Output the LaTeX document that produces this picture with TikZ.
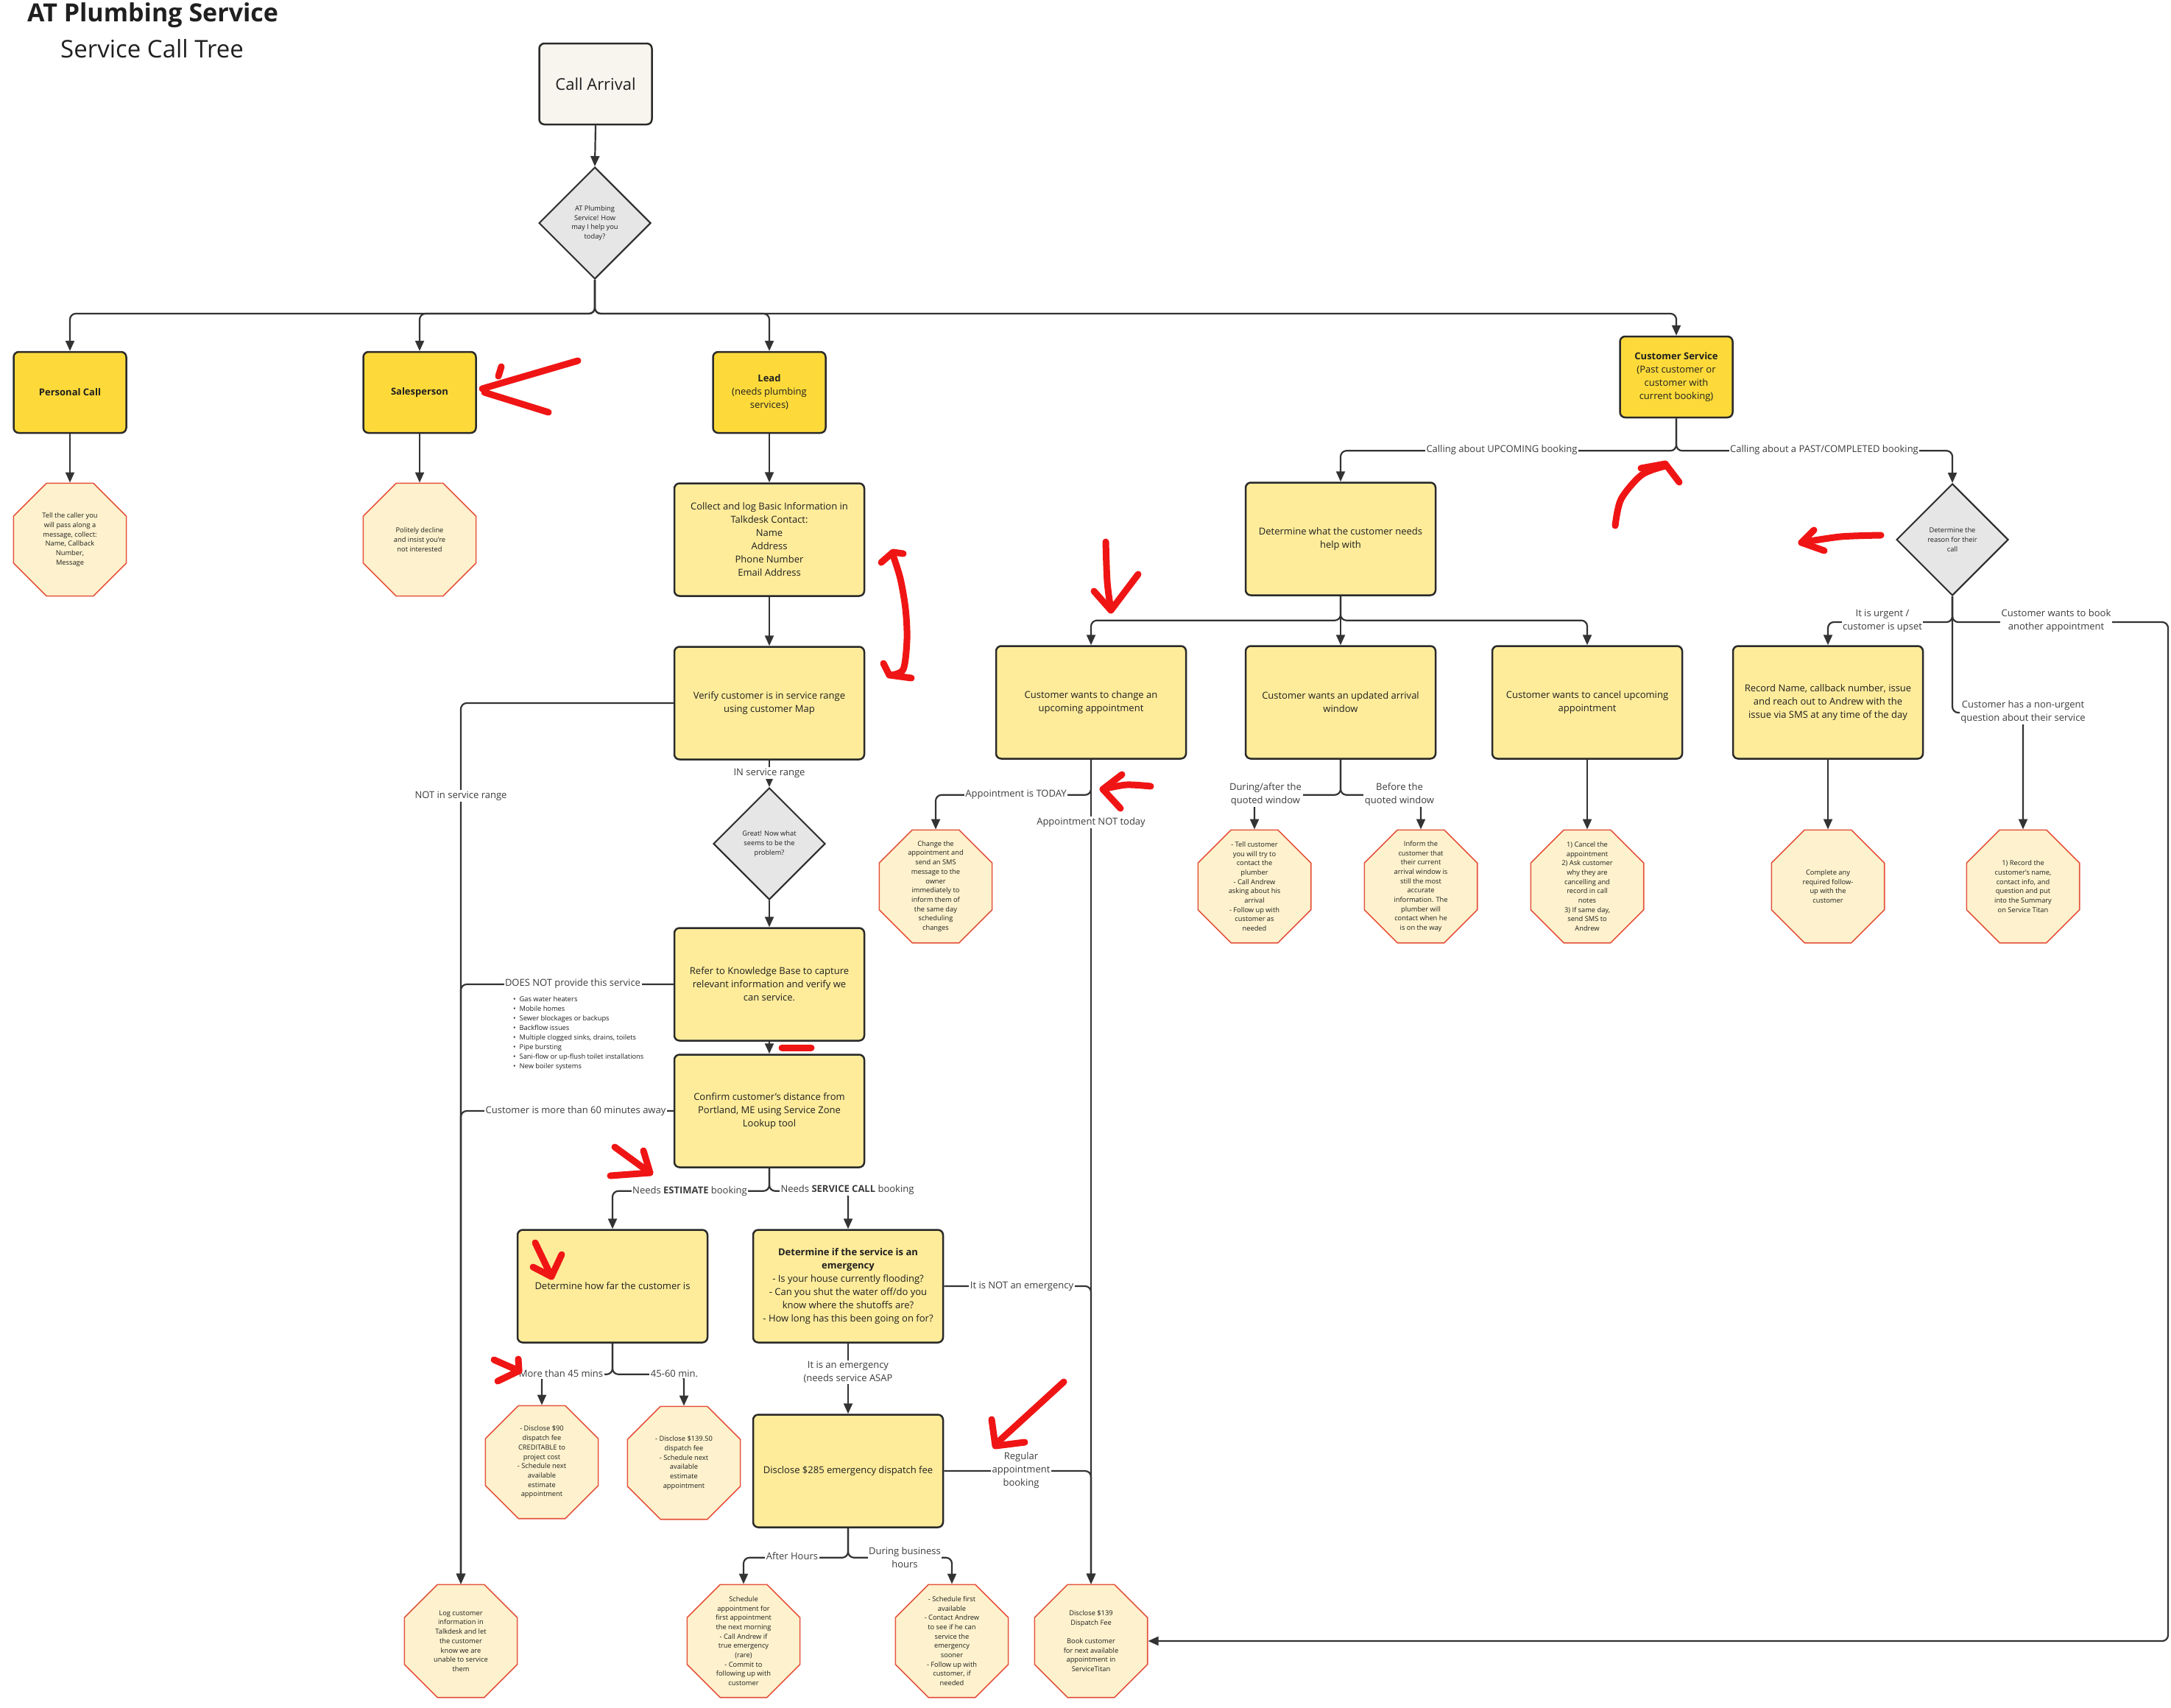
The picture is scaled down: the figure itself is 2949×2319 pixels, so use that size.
\documentclass[tikz,border=0pt]{standalone}
\usepackage{fontspec}
\setmainfont{Open Sans}
\usetikzlibrary{shapes.geometric,arrows.meta,calc}
\definecolor{linec}{HTML}{333333}
\definecolor{boxline}{HTML}{2A2A2A}
\definecolor{topyellow}{HTML}{FDDA3A}
\definecolor{lightyellow}{HTML}{FEEC9B}
\definecolor{decgray}{HTML}{E6E6E6}
\definecolor{octred}{HTML}{E5533D}
\definecolor{octfill}{HTML}{FDF2CD}
\definecolor{callfill}{HTML}{F8F5EE}
\definecolor{textc}{HTML}{1F1F1F}
\definecolor{labc}{HTML}{3C3C3C}
\definecolor{annred}{HTML}{F01515}
\tikzset{
 conn/.style={draw=linec, line width=2.2pt, rounded corners=8pt, -{Triangle[length=14pt,width=12pt]}},
 topbox/.style={draw=boxline, fill=topyellow, line width=2.5pt, rounded corners=7pt, minimum width=153pt, minimum height=110pt, align=center, font=\fontsize{13}{18}\selectfont, text=textc, inner sep=2pt},
 lbox/.style={draw=boxline, fill=lightyellow, line width=2.5pt, rounded corners=7pt, minimum width=258pt, minimum height=153pt, align=center, font=\fontsize{13}{18}\selectfont, text=textc, inner sep=2pt},
 dec/.style={diamond, aspect=1, draw=boxline, fill=decgray, line width=2pt, minimum width=152pt, minimum height=152pt, inner sep=0pt, align=center, font=\fontsize{9.3}{12.7}\selectfont, text=textc},
 oct/.style={regular polygon, regular polygon sides=8, minimum size=166pt, inner sep=0pt, draw=octred, fill=octfill, line width=1.6pt},
 octtext/.style={align=center, font=\fontsize{9.3}{12.7}\selectfont, text=textc, inner sep=0pt},
 lab/.style={fill=white, inner sep=1.5pt, align=center, font=\fontsize{13}{18}\selectfont, text=labc},
 ann/.style={draw=annred, line width=9pt, line cap=round, line join=round},
}
\begin{document}
\begin{tikzpicture}[x=1pt,y=-1pt]
\fill[white] (0,0) rectangle (2949,2319);
\useasboundingbox (0,0) rectangle (2949,2319);

% titles
\node[anchor=base west, inner sep=0pt, font=\fontsize{34}{40}\selectfont\bfseries, text=textc] (title) at (37,29) {AT Plumbing Service};
\node[anchor=base west, inner sep=0pt, font=\fontsize{33}{40}\selectfont, text=textc] (subtitle) at (82,78) {Service Call Tree};

% nodes
\node[topbox, fill=callfill, font=\fontsize{22}{26}\selectfont] (callarr) at (809,114) {Call Arrival};
\node[dec] (d1) at (808,303) {AT Plumbing\\Service! How\\may I help you\\today?};

\node[topbox] (personal) at (95,533) {\textbf{Personal Call}};
\node[topbox] (salesp) at (570,533) {\textbf{Salesperson}};
\node[topbox] (lead) at (1045,533) {\textbf{Lead}\\(needs plumbing\\services)};
\node[topbox] (cs) at (2277,512) {\textbf{Customer Service}\\(Past customer or\\customer with\\current booking)};

\node[lbox] (collect) at (1045,733) {Collect and log Basic Information in\\Talkdesk Contact:\\Name\\Address\\Phone Number\\Email Address};
\node[lbox] (verify) at (1045,955) {Verify customer is in service range\\using customer Map};
\node[dec] (d3) at (1045,1146) {Great! Now what\\seems to be the\\problem?};
\node[lbox] (kb) at (1045,1337) {Refer to Knowledge Base to capture\\relevant information and verify we\\can service.};
\node[lbox] (confirm) at (1045,1509) {Confirm customer's distance from\\Portland, ME using Service Zone\\Lookup tool};
\node[lbox] (howfar) at (832,1747) {Determine how far the customer is};
\node[lbox] (emerg) at (1152,1747) {\textbf{Determine if the service is an}\\\textbf{emergency}\\- Is your house currently flooding?\\- Can you shut the water off/do you\\know where the shutoffs are?\\- How long has this been going on for?};
\node[lbox] (disc285) at (1152,1998) {Disclose \$285 emergency dispatch fee};

\node[lbox] (determine) at (1821,732) {Determine what the customer needs\\help with};
\node[lbox] (boxA) at (1482,954) {Customer wants to change an\\upcoming appointment};
\node[lbox] (boxB) at (1821,954) {Customer wants an updated arrival\\window};
\node[lbox] (boxC) at (2156,954) {Customer wants to cancel upcoming\\appointment};
\node[dec] (d2) at (2652,733) {Determine the\\reason for their\\call};
\node[lbox] (record) at (2483,954) {Record Name, callback number, issue\\and reach out to Andrew with the\\issue via SMS at any time of the day};

% octagons
\node[oct] (opersonal) at (95,733) {};
\node[octtext] (t-opersonal) at (opersonal) {Tell the caller you\\will pass along a\\message, collect:\\Name, Callback\\Number,\\Message};
\node[oct] (osales) at (570,733) {};
\node[octtext] (t-osales) at (osales) {Politely decline\\and insist you're\\not interested};
\node[oct] (ochange) at (1271,1204) {};
\node[octtext] (t-ochange) at (ochange) {Change the\\appointment and\\send an SMS\\message to the\\owner\\immediately to\\inform them of\\the same day\\scheduling\\changes};
\node[oct] (otell) at (1704,1204) {};
\node[octtext] (t-otell) at (otell) {- Tell customer\\you will try to\\contact the\\plumber\\- Call Andrew\\asking about his\\arrival\\- Follow up with\\customer as\\needed};
\node[oct] (oinform) at (1930,1204) {};
\node[octtext] (t-oinform) at (oinform) {Inform the\\customer that\\their current\\arrival window is\\still the most\\accurate\\information. The\\plumber will\\contact when he\\is on the way};
\node[oct] (ocancel) at (2156,1204) {};
\node[octtext] (t-ocancel) at (ocancel) {1) Cancel the\\appointment\\2) Ask customer\\why they are\\cancelling and\\record in call\\notes\\3) If same day,\\send SMS to\\Andrew};
\node[oct] (ocomplete) at (2483,1204) {};
\node[octtext] (t-ocomplete) at (ocomplete) {Complete any\\required follow-\\up with the\\customer};
\node[oct] (orecord) at (2748,1204) {};
\node[octtext] (t-orecord) at (orecord) {1) Record the\\customer's name,\\contact info, and\\question and put\\into the Summary\\on Service Titan};
\node[oct] (o90) at (736,1986) {};
\node[octtext] (t-o90) at (o90) {- Disclose \$90\\dispatch fee\\CREDITABLE to\\project cost\\- Schedule next\\available\\estimate\\appointment};
\node[oct] (o13950) at (929,1987) {};
\node[octtext] (t-o13950) at (o13950) {- Disclose \$139.50\\dispatch fee\\- Schedule next\\available\\estimate\\appointment};
\node[oct] (olog) at (626,2229) {};
\node[octtext] (t-olog) at (olog) {Log customer\\information in\\Talkdesk and let\\the customer\\know we are\\unable to service\\them};
\node[oct] (osched) at (1010,2229) {};
\node[octtext] (t-osched) at (osched) {Schedule\\appointment for\\first appointment\\the next morning\\- Call Andrew if\\true emergency\\(rare)\\- Commit to\\following up with\\customer};
\node[oct] (ofirst) at (1293,2229) {};
\node[octtext] (t-ofirst) at (ofirst) {- Schedule first\\available\\- Contact Andrew\\to see if he can\\service the\\emergency\\sooner\\- Follow up with\\customer, if\\needed};
\node[oct] (o139) at (1482,2229) {};
\node[octtext] (t-o139) at (o139) {Disclose \$139\\Dispatch Fee\\[12.7pt]Book customer\\for next available\\appointment in\\ServiceTitan};

% bullet list
\node[anchor=north west, align=left, inner sep=0pt, font=\fontsize{9.3}{13}\selectfont, text=textc] (blist) at (697,1353) {%
\textbullet\hspace{5pt}Gas water heaters\\
\textbullet\hspace{5pt}Mobile homes\\
\textbullet\hspace{5pt}Sewer blockages or backups\\
\textbullet\hspace{5pt}Backflow issues\\
\textbullet\hspace{5pt}Multiple clogged sinks, drains, toilets\\
\textbullet\hspace{5pt}Pipe bursting\\
\textbullet\hspace{5pt}Sani-flow or up-flush toilet installations\\
\textbullet\hspace{5pt}New boiler systems};

\coordinate (rightrail) at (2945,2229);
\coordinate (nubend) at (2748,968);

% connectors
\draw[conn] (callarr.south) -- (d1.north);
\draw[conn] (d1.south) -- ++(0,46) -| (personal.north);
\draw[conn] (d1.south) -- ++(0,46) -| (salesp.north);
\draw[conn] (d1.south) -- ++(0,46) -| (lead.north);
\draw[conn] (d1.south) -- ++(0,46) -| (cs.north);
\draw[conn] (personal.south) -- (opersonal.north);
\draw[conn] (salesp.south) -- (osales.north);
\draw[conn] (lead.south) -- (collect.north);
\draw[conn] (collect.south) -- (verify.north);
\draw[conn] (verify.south) -- (d3.north);
\draw[conn] (verify.west) -| (olog.north);
\draw[conn] (kb.west) -| (olog.north);
\draw[conn] (confirm.west) -| (olog.north);
\draw[conn] (d3.south) -- (kb.north);
\draw[conn] (kb.south) -- (confirm.north);
\draw[conn] (confirm.south) -- ++(0,31) -| (howfar.north);
\draw[conn] (confirm.south) -- ++(0,31) -| (emerg.north);
\draw[conn] (howfar.south) -- ++(0,42) -| (o90.north);
\draw[conn] (howfar.south) -- ++(0,42) -| (o13950.north);
\draw[conn] (emerg.south) -- (disc285.north);
\draw[conn] (emerg.east) -| (o139.north);
\draw[conn] (disc285.east) -| (o139.north);
\draw[conn] (disc285.south) -- ++(0,40) -| (osched.north);
\draw[conn] (disc285.south) -- ++(0,40) -| (ofirst.north);
\draw[conn] (boxA.south) -- (o139.north);
\draw[conn] (boxA.south) -- ++(0,48) -| (ochange.north);
\draw[conn] (boxB.south) -- ++(0,48) -| (otell.north);
\draw[conn] (boxB.south) -- ++(0,48) -| (oinform.north);
\draw[conn] (boxC.south) -- (ocancel.north);
\draw[conn] (cs.south) -- ++(0,44) -| (determine.north);
\draw[conn] (cs.south) -- ++(0,44) -| (d2.north);
\draw[conn] (determine.south) -- ++(0,33) -| (boxA.north);
\draw[conn] (determine.south) -- ++(0,33) -| (boxB.north);
\draw[conn] (determine.south) -- ++(0,33) -| (boxC.north);
\draw[conn] (d2.south) -- ++(0,35) -| (record.north);
\draw[conn] (d2.south) -- ++(0,35) -| (rightrail) -- (o139.east);
\draw[conn] (d2.south) |- (nubend) -- (orecord.north);
\draw[conn] (record.south) -- (ocomplete.north);

% connector labels
\node[lab] (l-in) at (1045,1050) {IN service range};
\node[lab] (l-notin) at (626,1081) {NOT in service range};
\node[lab] (l-doesnot) at (778,1336) {DOES NOT provide this service};
\node[lab] (l-60) at (782,1509) {Customer is more than 60 minutes away};
\node[lab] (l-est) at (937,1618) {Needs \textbf{ESTIMATE} booking};
\node[lab] (l-svc) at (1151,1616) {Needs \textbf{SERVICE CALL} booking};
\node[lab] (l-45) at (762,1866) {More than 45 mins};
\node[lab] (l-4560) at (916,1866) {45-60 min.};
\node[lab] (l-emerg) at (1152,1864) {It is an emergency\\(needs service ASAP};
\node[lab] (l-notemerg) at (1388,1747) {It is NOT an emergency};
\node[lab] (l-regular) at (1387,1997) {Regular\\appointment\\booking};
\node[lab] (l-after) at (1076,2114) {After Hours};
\node[lab] (l-during) at (1229,2116) {During business\\hours};
\node[lab] (l-today) at (1380,1079) {Appointment is TODAY};
\node[lab] (l-nottoday) at (1482,1117) {Appointment NOT today};
\node[lab] (l-duringafter) at (1719,1079) {During/after the\\quoted window};
\node[lab] (l-before) at (1901,1079) {Before the\\quoted window};
\node[lab] (l-upcoming) at (2040,611) {Calling about UPCOMING booking};
\node[lab] (l-past) at (2478,611) {Calling about a PAST/COMPLETED booking};
\node[lab] (l-urgent) at (2557,843) {It is urgent /\\customer is upset};
\node[lab] (l-book) at (2793,843) {Customer wants to book\\another appointment};
\node[lab] (l-nonurgent) at (2748,967) {Customer has a non-urgent\\question about their service};

% red hand-drawn annotations
\draw[ann] (785,490) -- (655,528);
\draw[ann] (658,533) -- (745,560);
\draw[ann] (681,498) -- (677,511);
\draw[ann] plot[smooth] coordinates {(1213,754) (1223,786) (1230,827) (1232,868) (1227,909) (1210,917)};
\draw[ann] (1197,764) -- (1213,750) -- (1227,752);
\draw[ann] (1200,901) -- (1208,917) -- (1238,921);
\draw[ann] plot[smooth] coordinates {(1563,1068) (1530,1066) (1498,1072)};
\draw[ann] (1524,1052) -- (1498,1072) -- (1522,1098);
\draw[ann] plot[smooth] coordinates {(1502,736) (1504,790) (1509,829)};
\draw[ann] (1486,803) -- (1509,829) -- (1546,780);
\draw[ann] plot[smooth] coordinates {(2194,714) (2202,678) (2230,645) (2262,633)};
\draw[ann] (2229,636) -- (2262,630) -- (2281,655);
\draw[ann] plot[smooth] coordinates {(2555,727) (2500,729) (2447,737)};
\draw[ann] (2464,720) -- (2447,737) -- (2478,748);
\draw[ann] (1062,1423) -- (1102,1423);
\draw[ann] (835,1558) -- (883,1593);
\draw[ann] (829,1597) -- (883,1593) -- (874,1563);
\draw[ann] (727,1688) -- (749,1734);
\draw[ann] (724,1721) -- (749,1734) -- (763,1704);
\draw[ann] (671,1847) -- (705,1862);
\draw[ann] (676,1876) -- (705,1862) -- (704,1846);
\draw[ann] (1445,1877) -- (1352,1962);
\draw[ann] (1347,1928) -- (1352,1964) -- (1392,1959);
\end{tikzpicture}
\end{document}
